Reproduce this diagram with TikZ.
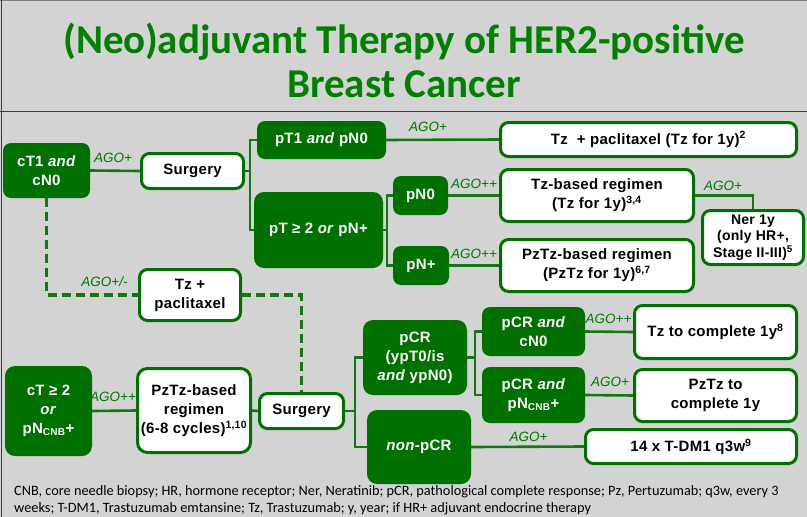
\documentclass[tikz,border=0pt]{standalone}
\usepackage{fontspec}
\setmainfont{Liberation Sans}
\newfontfamily\boxfont[LetterSpace=2]{Liberation Sans}
\newfontfamily\titlefont{Carlito}
\newfontfamily\notefont{Carlito}
\definecolor{bggray}{RGB}{211,211,211}
\definecolor{dg}{RGB}{0,112,0}
\definecolor{lg}{RGB}{20,118,20}
\definecolor{tg}{RGB}{0,128,0}
\definecolor{ag}{RGB}{0,120,0}
\tikzset{
  darkbox/.style={fill=dg,draw=none,rounded corners=8pt,text=white,align=center,inner sep=0pt,
    font=\boxfont\bfseries\fontsize{15}{19}\selectfont},
  whitebox/.style={fill=white,draw=dg,line width=3pt,rounded corners=8pt,text=black,align=center,inner sep=0pt,
    font=\boxfont\bfseries\fontsize{15}{19}\selectfont},
  link/.style={draw=lg,line width=2.6pt},
  dlink/.style={draw=lg,line width=3.6pt,dash pattern=on 9pt off 5pt},
  ago/.style={text=ag,font=\itshape\fontsize{13.5}{15}\selectfont,inner sep=0pt},
}
\newcommand{\cnb}{\textsubscript{\fontsize{10}{10}\selectfont CNB}}
\begin{document}
\begin{tikzpicture}[x=1pt,y=-1pt]
\useasboundingbox (0,0) rectangle (807,517);
\fill[bggray] (0,0) rectangle (807,517);
\draw[gray,line width=1pt] (0,0.5) -- (807,0.5);
\draw[tg!80!black,line width=1.5pt] (1.5,0) -- (1.5,517);
\draw[tg!80!black,line width=1.5pt] (0,111.5) -- (807,111.5);
% title
\node[text=tg,font=\titlefont\bfseries\fontsize{41}{44}\selectfont,align=center] (title) at (404,60)
  {(Neo)adjuvant Therapy of HER2-positive\\Breast Cancer};
% nodes
\node[darkbox,minimum width=87pt,minimum height=55pt] (cT1) at (46.5,170.5) {cT1 \textit{and}\\cN0};
\node[whitebox,minimum width=102pt,minimum height=35pt] (surg1) at (192.5,171) {Surgery};
\node[darkbox,minimum width=129pt,minimum height=38pt] (pT1) at (321.5,140) {pT1 \textit{and} pN0};
\node[darkbox,minimum width=129pt,minimum height=76pt,rounded corners=10pt] (pT2) at (318.5,230) {pT ≥ 2 \textit{or} pN+};
\node[darkbox,minimum width=55pt,minimum height=39pt] (pN0) at (420.5,195.5) {pN0};
\node[darkbox,minimum width=56pt,minimum height=39pt] (pNp) at (421,265.5) {pN+};
\node[whitebox,minimum width=296pt,minimum height=34pt] (tzpac) at (648.5,139.5) {Tz\ \ + paclitaxel (Tz for 1y)\textsuperscript{2}};
\node[whitebox,minimum width=193pt,minimum height=52pt] (tzbased) at (597,195.5) {Tz-based regimen\\(Tz for 1y)\textsuperscript{3,4}};
\node[whitebox,minimum width=193pt,minimum height=52pt] (pztzbased) at (597,265.5) {PzTz-based regimen\\(PzTz for 1y)\textsuperscript{6,7}};
\node[whitebox,minimum width=101pt,minimum height=54pt,font=\boxfont\bfseries\fontsize{14}{16.5}\selectfont] (ner) at (753,237.5) {Ner 1y\\(only HR+,\\Stage II-III)\textsuperscript{5}};
\node[whitebox,minimum width=101pt,minimum height=51pt] (tzpac2) at (190,295) {Tz +\\paclitaxel};
\node[darkbox,minimum width=87pt,minimum height=90pt,rounded corners=10pt] (cT2) at (48.5,411) {cT ≥ 2\\\textit{or}\\pN\cnb+};
\node[whitebox,minimum width=113pt,minimum height=84pt,rounded corners=10pt] (pztz6) at (194,410.5) {PzTz-based\\regimen\\(6-8 cycles)\textsuperscript{1,10}};
\node[whitebox,minimum width=84pt,minimum height=35pt] (surg2) at (301.5,411) {Surgery};
\node[darkbox,minimum width=104pt,minimum height=75pt,rounded corners=10pt] (pcr) at (415,357.5) {pCR\\(ypT0/is\\\textit{and} ypN0)};
\node[darkbox,minimum width=104pt,minimum height=74pt,rounded corners=10pt] (nonpcr) at (419,447) {\textit{non}-pCR};
\node[darkbox,minimum width=103pt,minimum height=49pt] (pcrcn0) at (533.5,331.5) {pCR \textit{and}\\cN0};
\node[darkbox,minimum width=103pt,minimum height=56pt] (pcrpn) at (533.5,395) {pCR \textit{and}\\pN\cnb+};
\node[whitebox,minimum width=162pt,minimum height=53pt] (tzcomp) at (715.5,332) {Tz to complete 1y\textsuperscript{8}};
\node[whitebox,minimum width=162pt,minimum height=52pt] (pztzcomp) at (715.5,395.5) {PzTz to\\complete 1y};
\node[whitebox,minimum width=211pt,minimum height=34pt] (tdm1) at (691,446.5) {14 x T-DM1 q3w\textsuperscript{9}};
% bracket points
\coordinate (b1) at (250,171);
\coordinate (b2) at (387,230);
\coordinate (b3) at (355,411);
\coordinate (b4) at (475,357.5);
% connectors
\draw[link] (cT1.east) -- (surg1.west);
\draw[link] (surg1.east) -- (b1);
\draw[link] (pT1.west) -| (b1) |- (pT2.west);
\draw[link] (pT1.east) -- (tzpac.west);
\draw[link] (pT2.east) -- (b2);
\draw[link] (pN0.west) -| (b2) |- (pNp.west);
\draw[link] (pN0.east) -- (tzbased.west);
\draw[link] (pNp.east) -- (pztzbased.west);
\draw[link] (tzbased.east) -| (ner.north);
\draw[dlink] (cT1.south) |- (tzpac2.west);
\draw[dlink] (tzpac2.east) -| (surg2.north);
\draw[link] (cT2.east) -- (pztz6.west);
\draw[link] (pztz6.east) -- (surg2.west);
\draw[link] (surg2.east) -- (b3);
\draw[link] (pcr.west) -| (b3) |- (nonpcr.west);
\draw[link] (pcr.east) -- (b4);
\draw[link] (pcrcn0.west) -| (b4) |- (pcrpn.west);
\draw[link] (pcrcn0.east) -- (tzcomp.west);
\draw[link] (pcrpn.east) -- (pztzcomp.west);
\draw[link] (nonpcr.east) -- (tdm1.west);
% labels
\node[ago] (l1) at (113,158) {AGO+};
\node[ago] (l2) at (428,127) {AGO+};
\node[ago] (l3) at (474,184) {AGO++};
\node[ago] (l4) at (474,254) {AGO++};
\node[ago] (l5) at (723,186) {AGO+};
\node[ago] (l6) at (104.5,282) {AGO+/-};
\node[ago] (l7) at (113,397) {AGO++};
\node[ago] (l8) at (608.5,319) {AGO++};
\node[ago] (l9) at (610,382) {AGO+};
\node[ago] (l10) at (528.5,437) {AGO+};
% footnote
\node[anchor=north west,align=left,inner sep=0pt,font=\notefont\fontsize{14.3}{17}\selectfont] (fn) at (14,485)
  {CNB, core needle biopsy; HR, hormone receptor; Ner, Neratinib; pCR, pathological complete response; Pz, Pertuzumab; q3w, every 3\\weeks; T-DM1, Trastuzumab emtansine; Tz, Trastuzumab; y, year; if HR+ adjuvant endocrine therapy};
\end{tikzpicture}
\end{document}
